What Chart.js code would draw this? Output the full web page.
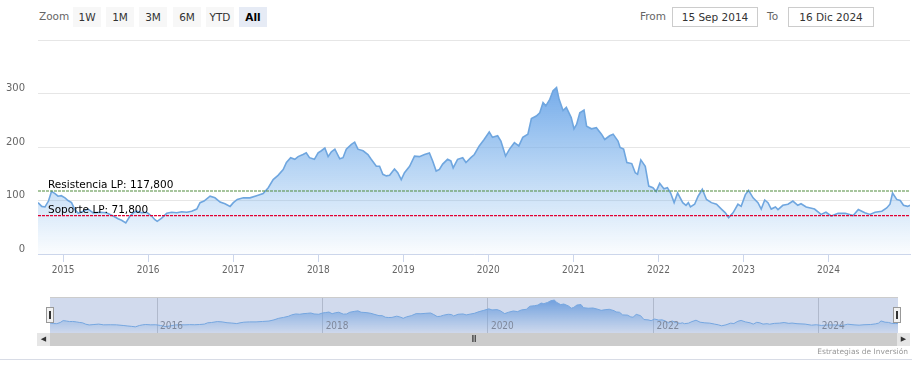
<!DOCTYPE html>
<html lang="es">
<head>
<meta charset="UTF-8">
<title>Cotización</title>
<script src="https://cdn.jsdelivr.net/npm/chart.js@4.4.1/dist/chart.umd.min.js"></script>
<style>
  body { margin: 0; width: 921px; height: 372px; background: #fff; position: relative; overflow: hidden; font-family: 'DejaVu Sans', sans-serif; }
  .abs { position: absolute; }
  .lbl { font-size: 10.5px; color: #666; top: 10px; }
  .btn { top: 7px; width: 28px; height: 20px; line-height: 20px; font-size: 10.5px; color: #333; background: #f7f7f7; text-align: center; }
  .btn.on { background: #e6ebf5; font-weight: bold; color: #000; }
  .box { top: 7px; height: 18px; line-height: 18px; border: 1px solid #ccc; font-size: 10.5px; color: #333; text-align: center; }
  .handle { width: 6px; height: 14px; background: #f2f2f2; border: 1px solid #999; top: 307px; }
  .handle::after { content: ''; position: absolute; left: 2px; top: 3px; height: 8px; border-left: 1px solid #333; border-right: 1px solid #333; width: 0px; }
</style>
</head>
<body>
<div class="abs lbl" style="left:39px">Zoom</div>
<div class="abs btn" style="left:73px">1W</div>
<div class="abs btn" style="left:106px">1M</div>
<div class="abs btn" style="left:139px">3M</div>
<div class="abs btn" style="left:173px">6M</div>
<div class="abs btn" style="left:206px">YTD</div>
<div class="abs btn on" style="left:239px">All</div>
<div class="abs lbl" style="left:640px">From</div>
<div class="abs box" style="left:672px;width:84px">15 Sep 2014</div>
<div class="abs lbl" style="left:767px">To</div>
<div class="abs box" style="left:788px;width:84px">16 Dic 2024</div>

<canvas id="price" class="abs" style="left:0;top:0" width="921" height="280"></canvas>
<canvas id="nav" class="abs" style="left:50px;top:297px" width="848" height="36"></canvas>
<div class="abs" style="left:50px;top:297px;width:848px;height:36px;background:rgba(102,133,194,0.3);border-top:1px solid #ccc;box-sizing:border-box"></div>
<div class="abs handle" style="left:46px"></div>
<div class="abs handle" style="left:893px"></div>

<div class="abs" style="left:37px;top:333px;width:873px;height:13px;background:#f2f2f2"></div>
<div class="abs" style="left:50px;top:333px;width:847px;height:13px;background:#cccccc;text-align:center;font-size:8px;line-height:13px;color:#333;letter-spacing:-1px">III</div>
<div class="abs" style="left:37px;top:333px;width:13px;height:13px;background:#e6e6e6;font-size:7px;line-height:13px;text-align:center;color:#333">&#9664;</div>
<div class="abs" style="left:897px;top:333px;width:13px;height:13px;background:#e6e6e6;font-size:7px;line-height:13px;text-align:center;color:#333">&#9654;</div>
<div class="abs" style="right:13px;top:347px;font-size:7.5px;color:#999">Estrategias de Inversión</div>
<div class="abs" style="left:0;top:359px;width:912px;height:1px;background:#d8dce6"></div>

<script>
const dates = ['2014-09-15','2014-10-01','2014-10-15','2014-10-30','2014-11-12','2014-11-27','2014-12-10','2014-12-24',
  '2015-01-09','2015-01-22','2015-02-06','2015-02-20','2015-03-07','2015-03-28','2015-04-18','2015-05-10','2015-06-08',
  '2015-07-06','2015-08-04','2015-08-25','2015-09-09','2015-09-27','2015-10-15','2015-10-29','2015-11-12','2015-12-04',
  '2015-12-26','2016-01-16','2016-01-30','2016-02-09','2016-02-28','2016-03-21','2016-04-11','2016-05-03','2016-05-24',
  '2016-06-15','2016-07-06','2016-07-28','2016-08-11','2016-08-28','2016-09-23','2016-10-14','2016-11-05','2016-11-26',
  '2016-12-18','2017-01-01','2017-01-18','2017-02-13','2017-03-13','2017-04-11','2017-05-09','2017-05-31','2017-06-21',
  '2017-07-12','2017-08-03','2017-08-17','2017-09-04','2017-09-22','2017-10-06','2017-10-27','2017-11-10','2017-11-24',
  '2017-12-15','2017-12-31','2018-01-14','2018-01-29','2018-02-12','2018-02-26','2018-03-13','2018-04-03','2018-04-17',
  '2018-05-01','2018-05-23','2018-06-06','2018-06-20','2018-07-12','2018-08-02','2018-08-16','2018-09-07','2018-09-21',
  '2018-10-05','2018-10-20','2018-11-03','2018-11-24','2018-12-08','2018-12-23','2019-01-06','2019-01-28','2019-02-18',
  '2019-03-11','2019-04-02','2019-04-23','2019-05-07','2019-05-22','2019-06-05','2019-06-19','2019-07-10','2019-07-24',
  '2019-08-03','2019-08-22','2019-09-13','2019-09-27','2019-10-18','2019-11-02','2019-11-23','2019-12-14','2020-01-05',
  '2020-01-19','2020-02-10','2020-02-24','2020-03-15','2020-04-01','2020-04-22','2020-05-11','2020-05-28','2020-06-19',
  '2020-07-04','2020-07-25','2020-08-09','2020-08-23','2020-09-04','2020-09-21','2020-10-05','2020-10-20','2020-10-31',
  '2020-11-17','2020-12-01','2020-12-22','2021-01-03','2021-01-14','2021-01-28','2021-02-15','2021-02-26','2021-03-19',
  '2021-04-09','2021-05-01','2021-05-15','2021-06-05','2021-06-20','2021-07-11','2021-07-20','2021-08-04','2021-08-18',
  '2021-09-08','2021-09-23','2021-10-03','2021-10-17','2021-11-05','2021-11-20','2021-12-08','2021-12-22','2022-01-06',
  '2022-01-24','2022-02-08','2022-02-22','2022-03-09','2022-03-24','2022-04-15','2022-04-29','2022-05-09','2022-05-18',
  '2022-06-05','2022-06-20','2022-07-08','2022-07-26','2022-08-16','2022-09-07','2022-09-28','2022-10-15','2022-10-29',
  '2022-11-17','2022-12-08','2022-12-22','2023-01-09','2023-01-23','2023-02-11','2023-03-04','2023-03-18','2023-04-02',
  '2023-04-16','2023-04-30','2023-05-18','2023-05-29','2023-06-19','2023-07-11','2023-08-01','2023-08-22','2023-09-05',
  '2023-09-27','2023-11-02','2023-11-30','2023-12-21','2024-01-13','2024-02-11','2024-03-13','2024-04-16','2024-05-08',
  '2024-06-05','2024-06-27','2024-07-19','2024-08-17','2024-09-07','2024-09-21','2024-10-02','2024-10-20','2024-11-04',
  '2024-11-18','2024-12-06','2024-12-16'];
const prices = [96,89,88,99,117,113,108,109,
  105,100,96,83,76,80,84,77,78,
  77,71,66,63,58,71,77,80,77,
  78,71,64,61,67,76,78,77,79,
  78,80,84,96,99,108,105,97,94,
  89,96,102,105,105,109,113,124,139,
  147,158,171,180,177,182,186,189,180,
  177,189,193,198,182,191,196,178,180,
  196,205,209,196,193,186,177,164,164,
  149,146,147,159,152,139,152,164,183,
  182,186,189,174,155,158,168,177,174,
  161,177,180,171,180,186,202,214,228,
  218,221,211,183,196,208,202,218,224,
  253,258,264,283,277,289,305,311,289,
  268,274,255,234,242,264,269,239,234,
  236,224,214,221,224,211,199,196,171,
  169,152,149,176,164,127,124,117,132,
  122,124,114,96,114,96,91,96,88,
  93,108,121,102,96,93,84,77,68,
  77,93,89,111,119,105,96,84,101,
  96,84,88,83,91,93,99,91,94,
  88,84,74,78,71,76,76,72,83,
  77,74,78,80,86,93,114,102,100,
  91,89,91];

const yearTicks = [2015, 2016, 2017, 2018, 2019, 2020, 2021, 2022, 2023, 2024];
const navYearTicks = [2016, 2018, 2020, 2022, 2024];
const priceTicks = [0, 100, 200, 300, 400];
const resistencia = 117.8;
const soporte = 71.8;
const plotLineLabels = ['Resistencia LP: 117,800', 'Soporte LP: 71,800'];

const ts = d => Date.parse(d);
const series = dates.map((d, i) => ({ x: ts(d), y: prices[i] }));
const xMin = ts(dates[0]);
const xMax = ts(dates[dates.length - 1]);

function areaFill(ctx) {
  const chart = ctx.chart;
  const area = chart.chartArea;
  if (!area) return 'rgba(124,181,236,0.3)';
  const top = chart.scales.y.getPixelForValue(Math.max(...prices));
  const g = chart.ctx.createLinearGradient(0, top, 0, area.bottom);
  g.addColorStop(0, 'rgba(118,172,234,1)');
  g.addColorStop(1, 'rgba(124,181,236,0.03)');
  return g;
}

const plotLabels = {
  id: 'plotLabels',
  afterDatasetsDraw(chart) {
    const c = chart.ctx;
    const y = chart.scales.y;
    c.save();
    c.font = '10.5px "DejaVu Sans"';
    c.fillStyle = '#000';
    c.textBaseline = 'alphabetic';
    c.fillText(plotLineLabels[0], chart.chartArea.left + 10, y.getPixelForValue(resistencia) - 3);
    c.fillText(plotLineLabels[1], chart.chartArea.left + 10, y.getPixelForValue(soporte) - 3);
    c.restore();
  }
};

new Chart(document.getElementById('price'), {
  type: 'line',
  data: {
    datasets: [{
      data: series,
      borderColor: '#6fa6df',
      borderWidth: 1.6,
      backgroundColor: areaFill,
      fill: 'origin',
      pointRadius: 0,
      tension: 0,
      order: 2
    }, {
      data: [{ x: xMin, y: resistencia }, { x: xMax, y: resistencia }],
      borderColor: 'rgb(80,140,60)',
      borderWidth: 1.2,
      borderDash: [3, 1],
      pointRadius: 0,
      fill: false,
      order: 1
    }, {
      data: [{ x: xMin, y: soporte }, { x: xMax, y: soporte }],
      borderColor: 'rgb(225,0,50)',
      borderWidth: 1.3,
      borderDash: [3, 1],
      pointRadius: 0,
      fill: false,
      order: 1
    }]
  },
  options: {
    responsive: false,
    animation: false,
    layout: { padding: { top: 40, right: 11, left: 0, bottom: 0 } },
    plugins: { legend: { display: false }, tooltip: { enabled: false } },
    scales: {
      x: {
        type: 'linear',
        min: xMin,
        max: xMax,
        afterBuildTicks: s => { s.ticks = yearTicks.map(y => ({ value: Date.UTC(y, 0, 1) })); },
        afterFit: s => { s.height = 26; },
        grid: { drawOnChartArea: false, drawTicks: true, tickLength: 8, color: '#ccd6eb' },
        border: { display: true, color: '#ccd6eb' },
        ticks: {
          maxRotation: 0,
          padding: 2,
          color: '#666',
          font: { family: 'DejaVu Sans Condensed', size: 10 },
          callback: v => new Date(v).getUTCFullYear()
        }
      },
      y: {
        min: 0,
        max: 400,
        afterBuildTicks: s => { s.ticks = priceTicks.map(v => ({ value: v })); },
        afterFit: s => { s.width = 38; },
        grid: { color: '#e6e6e6', drawTicks: false },
        border: { display: false },
        ticks: {
          padding: 13,
          labelOffset: -5,
          color: '#666',
          font: { family: 'DejaVu Sans', size: 10 },
          callback: v => (v === 400 ? '' : v)
        }
      }
    }
  },
  plugins: [plotLabels]
});

const navLabels = {
  id: 'navLabels',
  afterDatasetsDraw(chart) {
    const c = chart.ctx;
    const x = chart.scales.x;
    c.save();
    c.font = '10px "DejaVu Sans Condensed"';
    c.fillStyle = '#8a8a8a';
    c.textBaseline = 'middle';
    navYearTicks.forEach(y => c.fillText(String(y), x.getPixelForValue(Date.UTC(y, 0, 1)) + 3, 29));
    c.restore();
  }
};

new Chart(document.getElementById('nav'), {
  type: 'line',
  data: {
    datasets: [{
      data: series,
      borderColor: '#7cb5ec',
      borderWidth: 1,
      backgroundColor: areaFill,
      fill: 'origin',
      pointRadius: 0,
      tension: 0
    }]
  },
  options: {
    responsive: false,
    animation: false,
    layout: { padding: 0 },
    plugins: { legend: { display: false }, tooltip: { enabled: false } },
    scales: {
      x: {
        type: 'linear',
        min: xMin,
        max: xMax,
        afterBuildTicks: s => { s.ticks = navYearTicks.map(y => ({ value: Date.UTC(y, 0, 1) })); },
        afterFit: s => { s.height = 0; },
        grid: { color: '#d0d0d0', drawTicks: false },
        border: { display: false },
        ticks: { display: false }
      },
      y: {
        display: false,
        min: 0,
        max: 340
      }
    }
  },
  plugins: [navLabels]
});
</script>
</body>
</html>
